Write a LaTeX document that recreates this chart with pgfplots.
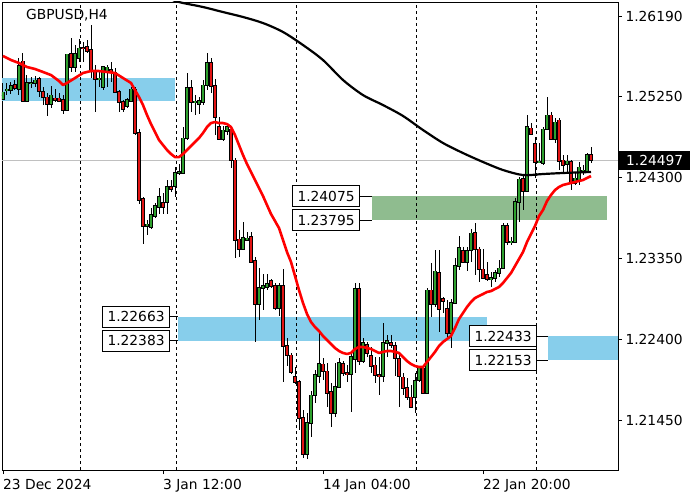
\documentclass[border=0pt]{standalone}
\usepackage{fontspec}
\setmainfont{DejaVu Sans}
\usepackage{pgfplots}
\usepackage{pgfplotstable}
\pgfplotsset{compat=1.18}

\definecolor{zoneblue}{RGB}{135,206,235}
\definecolor{zonegreen}{RGB}{143,188,143}
\definecolor{bull}{RGB}{46,160,46}
\definecolor{bear}{RGB}{225,20,20}
\definecolor{bidline}{RGB}{192,192,192}

% H4 candles: bar index, open, high, low, close
\pgfplotstableread{
i o h l c
0 1.25216 1.25405 1.25205 1.25299
1 1.25322 1.25405 1.25263 1.25334
2 1.25322 1.25417 1.25275 1.25370
3 1.25381 1.25440 1.25322 1.25346
4 1.25334 1.25698 1.25263 1.25604
5 1.25662 1.25757 1.25190 1.25193
6 1.25193 1.25498 1.25190 1.25405
7 1.25405 1.25475 1.25346 1.25411
8 1.25405 1.25487 1.25358 1.25440
9 1.25451 1.25475 1.25240 1.25310
10 1.25299 1.25358 1.25146 1.25240
11 1.25240 1.25287 1.25018 1.25158
12 1.25158 1.25370 1.25111 1.25263
13 1.25228 1.25334 1.25182 1.25205
14 1.25228 1.25287 1.25182 1.25193
15 1.25205 1.25263 1.25041 1.25088
16 1.25088 1.25750 1.25085 1.25745
17 1.25745 1.25932 1.25534 1.25592
18 1.25592 1.25850 1.25534 1.25745
19 1.25698 1.25920 1.25651 1.25815
20 1.25815 1.25886 1.25651 1.25812
21 1.25827 1.25909 1.25757 1.25780
22 1.25792 1.26084 1.25463 1.25557
23 1.25534 1.25615 1.25065 1.25451
24 1.25451 1.25534 1.25358 1.25463
25 1.25358 1.25604 1.25322 1.25592
26 1.25534 1.25615 1.25358 1.25592
27 1.25557 1.25651 1.25417 1.25534
28 1.25534 1.25580 1.25287 1.25299
29 1.25299 1.25322 1.25065 1.25182
30 1.25182 1.25205 1.25065 1.25099
31 1.25135 1.25228 1.25111 1.25205
32 1.25193 1.25358 1.25182 1.25334
33 1.25334 1.25358 1.24794 1.24818
34 1.24818 1.24864 1.23985 1.24032
35 1.24043 1.24067 1.23516 1.23727
36 1.23727 1.23797 1.23621 1.23750
37 1.23715 1.23938 1.23691 1.23856
38 1.23845 1.23997 1.23821 1.23962
39 1.23950 1.24173 1.23868 1.24067
40 1.23997 1.24114 1.23868 1.23950
41 1.24009 1.24267 1.23868 1.24185
42 1.24185 1.24267 1.24126 1.24161
43 1.24197 1.24419 1.24067 1.24349
44 1.24349 1.24454 1.24325 1.24361
45 1.24349 1.24888 1.24345 1.24759
46 1.24759 1.25522 1.24736 1.25346
47 1.25346 1.25440 1.25065 1.25182
48 1.25182 1.25263 1.25029 1.25193
49 1.25158 1.25240 1.25041 1.25193
50 1.25182 1.25440 1.25146 1.25381
51 1.25381 1.25757 1.25322 1.25639
52 1.25639 1.25698 1.25287 1.25370
53 1.25370 1.25451 1.24794 1.25006
54 1.24888 1.25006 1.24745 1.24747
55 1.24747 1.24900 1.24724 1.24853
56 1.24841 1.24935 1.24794 1.24888
57 1.24864 1.24888 1.24407 1.24501
58 1.24501 1.24525 1.23352 1.23563
59 1.23574 1.23680 1.23364 1.23457
60 1.23457 1.23774 1.23446 1.23586
61 1.23563 1.23657 1.23551 1.23586
62 1.23598 1.23657 1.23293 1.23305
63 1.23316 1.23364 1.22367 1.22812
64 1.22812 1.23234 1.22624 1.23000
65 1.23000 1.23164 1.22742 1.23024
66 1.23012 1.23164 1.22976 1.23047
67 1.23082 1.23105 1.23000 1.23024
68 1.23024 1.23059 1.22742 1.22765
69 1.22765 1.23059 1.22672 1.23024
70 1.23024 1.23222 1.21898 1.22320
71 1.22320 1.22413 1.22085 1.22214
72 1.22214 1.22238 1.21991 1.22015
73 1.21956 1.22073 1.21874 1.21898
74 1.21898 1.21921 1.21334 1.21475
75 1.21475 1.21569 1.21006 1.21053
76 1.21053 1.21534 1.20994 1.21416
77 1.21416 1.21791 1.21252 1.21744
78 1.21744 1.22038 1.21651 1.21979
79 1.21967 1.22472 1.21886 1.22108
80 1.22108 1.22179 1.21921 1.22026
81 1.22026 1.22120 1.21604 1.21768
82 1.21780 1.21886 1.21369 1.21534
83 1.21534 1.22120 1.21487 1.21839
84 1.21839 1.22179 1.21835 1.22120
85 1.22108 1.22143 1.21967 1.22003
86 1.22003 1.22096 1.21898 1.21991
87 1.21991 1.22250 1.21546 1.22191
88 1.22167 1.23059 1.22003 1.22988
89 1.22988 1.23059 1.22096 1.22143
90 1.22143 1.22413 1.22120 1.22355
91 1.22331 1.22367 1.22191 1.22238
92 1.22203 1.22308 1.22003 1.22085
93 1.22096 1.22191 1.21886 1.21979
94 1.21979 1.22191 1.21744 1.21967
95 1.21967 1.22589 1.21898 1.22355
96 1.22355 1.22448 1.22191 1.22378
97 1.22355 1.22448 1.22296 1.22331
98 1.22320 1.22367 1.21967 1.22179
99 1.22167 1.22214 1.21604 1.21967
100 1.21956 1.22003 1.21744 1.21827
101 1.21827 1.21944 1.21686 1.21721
102 1.21721 1.21862 1.21593 1.21604
103 1.21721 1.22003 1.21534 1.21909
104 1.21921 1.22073 1.21898 1.22061
105 1.22061 1.22096 1.21765 1.21768
106 1.21768 1.23000 1.21765 1.22976
107 1.22976 1.23293 1.22660 1.22812
108 1.22812 1.23446 1.22777 1.23199
109 1.23176 1.23446 1.22484 1.22753
110 1.22871 1.22894 1.22707 1.22847
111 1.22753 1.22859 1.22425 1.22472
112 1.22472 1.22871 1.22296 1.22824
113 1.22824 1.23352 1.22820 1.23258
114 1.23258 1.23610 1.23211 1.23469
115 1.23434 1.23481 1.23293 1.23305
116 1.23305 1.23481 1.23199 1.23434
117 1.23446 1.23691 1.23305 1.23645
118 1.23645 1.23762 1.23153 1.23457
119 1.23457 1.23481 1.23071 1.23222
120 1.23222 1.23457 1.23105 1.23117
121 1.23153 1.23305 1.23082 1.23105
122 1.23105 1.23188 1.23012 1.23117
123 1.23117 1.23211 1.23071 1.23176
124 1.23176 1.23328 1.23129 1.23234
125 1.23234 1.23762 1.23230 1.23727
126 1.23727 1.23762 1.23504 1.23539
127 1.23539 1.23598 1.23504 1.23551
128 1.23539 1.24055 1.23535 1.24009
129 1.24009 1.24302 1.23774 1.24278
130 1.24278 1.24325 1.23915 1.24137
131 1.24137 1.25029 1.24133 1.24888
132 1.24876 1.24935 1.24794 1.24806
133 1.24689 1.24771 1.24290 1.24478
134 1.24478 1.24701 1.24466 1.24489
135 1.24466 1.24888 1.24442 1.24864
136 1.24864 1.25240 1.24860 1.25029
137 1.25029 1.25065 1.24736 1.24747
138 1.24747 1.24994 1.24701 1.24947
139 1.24970 1.24994 1.24384 1.24489
140 1.24501 1.24560 1.24361 1.24442
141 1.24454 1.24560 1.24361 1.24489
142 1.24478 1.24501 1.24149 1.24232
143 1.24232 1.24361 1.24208 1.24290
144 1.24267 1.24478 1.24208 1.24419
145 1.24361 1.24442 1.24325 1.24384
146 1.24372 1.24583 1.24361 1.24560
147 1.24560 1.24654 1.24466 1.24497
}\candles

% fast moving average (red)
\pgfplotstableread{
i v
0 1.25722
2 1.25674
4 1.25639
6 1.25592
8 1.25569
10 1.25534
12 1.25498
14 1.25428
15 1.25381
16 1.25405
18 1.25463
20 1.25522
22 1.25545
24 1.25545
26 1.25534
28 1.25522
30 1.25463
32 1.25405
33 1.25322
34 1.25240
35 1.25146
36 1.25029
37 1.24923
38 1.24830
39 1.24736
40 1.24677
41 1.24619
42 1.24572
43 1.24536
44 1.24536
45 1.24572
46 1.24619
47 1.24666
48 1.24712
49 1.24759
50 1.24818
51 1.24888
52 1.24935
53 1.24947
54 1.24935
55 1.24935
56 1.24923
57 1.24888
58 1.24794
59 1.24677
60 1.24560
61 1.24454
62 1.24361
63 1.24267
64 1.24173
65 1.24079
66 1.23973
67 1.23868
68 1.23786
69 1.23703
70 1.23563
71 1.23422
72 1.23305
73 1.23141
74 1.22976
75 1.22824
76 1.22695
77 1.22601
78 1.22542
79 1.22496
80 1.22437
81 1.22390
82 1.22343
83 1.22296
84 1.22261
85 1.22238
86 1.22226
87 1.22238
88 1.22284
89 1.22308
90 1.22308
91 1.22296
92 1.22284
93 1.22261
94 1.22238
95 1.22250
96 1.22261
97 1.22261
98 1.22250
99 1.22238
100 1.22191
101 1.22143
102 1.22108
103 1.22085
104 1.22073
105 1.22073
106 1.22132
107 1.22191
108 1.22250
109 1.22320
110 1.22367
111 1.22401
112 1.22437
113 1.22531
114 1.22636
115 1.22707
116 1.22777
117 1.22836
118 1.22882
119 1.22906
120 1.22929
121 1.22953
122 1.22964
123 1.22988
124 1.23012
125 1.23059
126 1.23117
127 1.23176
128 1.23258
129 1.23340
130 1.23422
131 1.23539
132 1.23633
133 1.23727
134 1.23844
135 1.23915
136 1.24020
137 1.24091
138 1.24149
139 1.24185
140 1.24208
141 1.24220
142 1.24232
143 1.24243
144 1.24255
145 1.24267
146 1.24290
147 1.24313
}\redma

% slow moving average (black)
\pgfplotstableread{
i v
38 1.26495
43 1.26366
45 1.26343
50 1.26296
55 1.26237
60 1.26179
65 1.26108
70 1.26003
75 1.25850
80 1.25674
85 1.25440
90 1.25263
95 1.25146
100 1.25018
105 1.24853
110 1.24701
115 1.24583
120 1.24478
125 1.24384
130 1.24325
135 1.24337
140 1.24349
147 1.24361
}\blackma

\newcommand{\lblfont}{\fontsize{13.8}{16}\selectfont}

\begin{document}
\begin{tikzpicture}
\useasboundingbox (0pt,0pt) rectangle (700pt,500pt);
\begin{axis}[
    at={(2pt,30pt)}, anchor=south west,
    scale only axis, width=616pt, height=468pt,
    xmin=-0.25, xmax=153.75, ymin=1.20865, ymax=1.26355,
    axis line style={black, line width=0.9pt},
    tick align=outside, major tick length=4pt,
    tick style={black, line width=0.9pt},
    xtick pos=bottom, ytick pos=right, yticklabel pos=right,
    xtick={0,40,80,120},
    xticklabels={23 Dec 2024, 3 Jan 12:00, 14 Jan 04:00, 22 Jan 20:00},
    ytick={1.2145,1.224,1.2335,1.243,1.2525,1.2619},
    yticklabels={1.21450,1.22400,1.23350,1.24300,1.25250,1.26190},
    tick label style={font=\lblfont},
    x tick label style={anchor=north west, inner sep=0pt, yshift=-5pt},
    y tick label style={anchor=west},
  ]
  % zones
  \addplot[fill=zoneblue, draw=none] coordinates {(-0.25,1.25463) (43,1.25463) (43,1.25193) (-0.25,1.25193)} -- cycle;
  \addplot[fill=zoneblue, draw=none] coordinates {(43.75,1.22663) (121,1.22663) (121,1.22383) (43.75,1.22383)} -- cycle;
  \addplot[fill=zonegreen, draw=none] coordinates {(92.25,1.24075) (151,1.24075) (151,1.23795) (92.25,1.23795)} -- cycle;
  \addplot[fill=zoneblue, draw=none] coordinates {(136.25,1.22433) (153.75,1.22433) (153.75,1.22153) (136.25,1.22153)} -- cycle;

  % week separators
  \addplot[black, line width=0.9pt, dash pattern=on 3pt off 3pt] coordinates {(19.25,1.20865) (19.25,1.26355)};
  \addplot[black, line width=0.9pt, dash pattern=on 3pt off 3pt] coordinates {(43.25,1.20865) (43.25,1.26355)};
  \addplot[black, line width=0.9pt, dash pattern=on 3pt off 3pt] coordinates {(73.25,1.20865) (73.25,1.26355)};
  \addplot[black, line width=0.9pt, dash pattern=on 3pt off 3pt] coordinates {(103.25,1.20865) (103.25,1.26355)};
  \addplot[black, line width=0.9pt, dash pattern=on 3pt off 3pt] coordinates {(133.25,1.20865) (133.25,1.26355)};

  % bid line
  \addplot[bidline, line width=0.9pt] coordinates {(-0.25,1.24497) (153.75,1.24497)};

  % wicks
  \addplot[draw=none, mark=none,
    error bars/.cd, y dir=both, y explicit, error mark=none,
    error bar style={draw=black, solid, line width=1pt}]
    table[x=i, y expr={(\thisrow{h}+\thisrow{l})/2}, y error expr={(\thisrow{h}-\thisrow{l})/2}] {\candles};
  % bodies: black outline, then coloured fill
  \addplot[draw=none, mark=none,
    error bars/.cd, y dir=both, y explicit, error mark=none,
    error bar style={draw=black, solid, line width=3.4pt, shorten <=-0.6pt, shorten >=-0.6pt}]
    table[x=i, y expr={(\thisrow{o}+\thisrow{c})/2}, y error expr={abs(\thisrow{c}-\thisrow{o})/2}] {\candles};
  \addplot[draw=none, mark=none,
    restrict expr to domain={\thisrow{c}-\thisrow{o}}{0:1},
    error bars/.cd, y dir=both, y explicit, error mark=none,
    error bar style={draw=bull, solid, line width=1.4pt}]
    table[x=i, y expr={(\thisrow{o}+\thisrow{c})/2}, y error expr={abs(\thisrow{c}-\thisrow{o})/2}] {\candles};
  \addplot[draw=none, mark=none,
    restrict expr to domain={\thisrow{c}-\thisrow{o}}{-1:-0.000001},
    error bars/.cd, y dir=both, y explicit, error mark=none,
    error bar style={draw=bear, solid, line width=1.4pt}]
    table[x=i, y expr={(\thisrow{o}+\thisrow{c})/2}, y error expr={abs(\thisrow{c}-\thisrow{o})/2}] {\candles};

  % moving averages
  \addplot[black, line width=2.2pt, smooth] table[x=i, y=v] {\blackma};
  \addplot[red, line width=2.6pt, line join=round] table[x=i, y=v] {\redma};

  % connectors from level labels to zones
  \addplot[black, line width=0.9pt] coordinates {(89.25,1.24075) (92.25,1.24075)};
  \addplot[black, line width=0.9pt] coordinates {(89.25,1.23795) (92.25,1.23795)};
  \addplot[black, line width=0.9pt] coordinates {(41.75,1.22663) (43.75,1.22663)};
  \addplot[black, line width=0.9pt] coordinates {(41.75,1.22383) (43.75,1.22383)};
  \addplot[black, line width=0.9pt] coordinates {(133.5,1.22433) (136.25,1.22433)};
  \addplot[black, line width=0.9pt] coordinates {(133.5,1.22153) (136.25,1.22153)};

  \coordinate (la) at (axis cs:89.25,1.24075);
  \coordinate (lb) at (axis cs:89.25,1.23795);
  \coordinate (lc) at (axis cs:41.75,1.22663);
  \coordinate (ld) at (axis cs:41.75,1.22383);
  \coordinate (le) at (axis cs:133.5,1.22433);
  \coordinate (lf) at (axis cs:133.5,1.22153);
  \coordinate (bid) at (axis cs:153.75,1.24497);
\end{axis}

\tikzset{lvl/.style={draw=black, line width=0.9pt, fill=white, anchor=east,
  minimum width=67pt, minimum height=21pt, inner sep=0pt, font=\lblfont}}
\node[lvl] at (la) {1.24075};
\node[lvl] at (lb) {1.23795};
\node[lvl] at (lc) {1.22663};
\node[lvl] at (ld) {1.22383};
\node[lvl] at (le) {1.22433};
\node[lvl] at (lf) {1.22153};

\node[fill=black, text=white, anchor=west, minimum width=71pt, minimum height=19pt,
  inner sep=0pt, font=\lblfont, xshift=1pt] at (bid) {1.24497};

\node[anchor=base west, inner sep=0pt, font=\lblfont] at (26pt,480pt) {GBPUSD,H4};
\end{tikzpicture}
\end{document}
